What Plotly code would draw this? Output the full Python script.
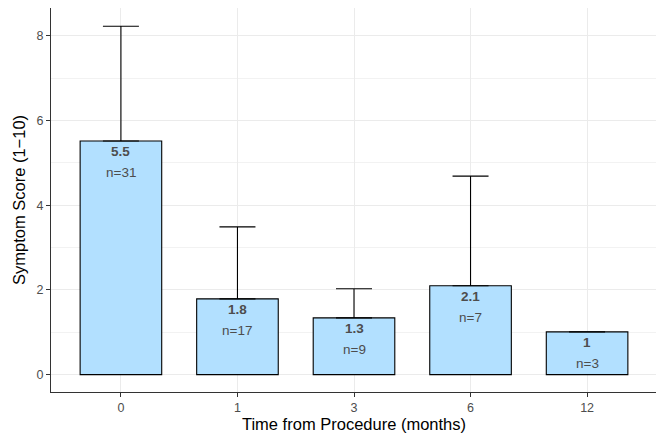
import plotly.graph_objects as go

categories = ["0", "1", "3", "6", "12"]
means = [5.52, 1.79, 1.34, 2.10, 1.01]
upper = [8.23, 3.49, 2.03, 4.69, 1.01]
mean_labels = ["5.5", "1.8", "1.3", "2.1", "1"]
n_labels = ["n=31", "n=17", "n=9", "n=7", "n=3"]

err_plus = [u - m for u, m in zip(upper, means)]
err_minus = [0] * len(means)
positions = list(range(len(categories)))

FONT = "Arial, Liberation Sans, sans-serif"

fig = go.Figure()
fig.add_trace(go.Bar(
    x=positions, y=means, width=0.7,
    marker=dict(color="#b2e0ff", line=dict(color="black", width=1.1)),
    error_y=dict(type="data", symmetric=False, array=err_plus, arrayminus=err_minus,
                 color="black", thickness=1.1, width=18),
    hoverinfo="skip",
))

annotations = []
for p, m, ml, nl in zip(positions, means, mean_labels, n_labels):
    annotations.append(dict(x=p, y=m, text="<b>" + ml + "</b>", showarrow=False,
                            yanchor="middle", yshift=-11,
                            font=dict(family=FONT, size=13.5, color="#4d4d4d")))
    annotations.append(dict(x=p, y=m, text=nl, showarrow=False,
                            yanchor="middle", yshift=-32,
                            font=dict(family=FONT, size=13.5, color="#4d4d4d")))

# page body has an 8px default margin; size the figure to fit the window
fig.update_layout(
    width=656, height=425,
    margin=dict(l=43, r=7, t=0, b=41),
    paper_bgcolor="white", plot_bgcolor="white",
    showlegend=False,
    font=dict(family=FONT),
    annotations=annotations,
)
fig.update_xaxes(
    automargin=False,
    range=[-0.6, 4.6],
    tickvals=positions, ticktext=categories,
    showgrid=True, gridcolor="#ebebeb", gridwidth=1.1,
    ticks="outside", ticklen=4, tickcolor="#333333", tickwidth=1.1,
    tickfont=dict(family=FONT, size=12.5, color="#4d4d4d"),
    title=dict(text="Time from Procedure (months)", font=dict(family=FONT, size=16.5, color="black"), standoff=4),
    showline=True, linecolor="#333333", linewidth=1.1, mirror=True,
    zeroline=False,
)
fig.update_yaxes(
    automargin=False,
    range=[-0.41, 8.66],
    tickvals=[0, 2, 4, 6, 8],
    showgrid=True, gridcolor="#ebebeb", gridwidth=1.1,
    minor=dict(tickvals=[1, 3, 5, 7], showgrid=True, gridcolor="#f2f2f2", gridwidth=0.6, ticks=""),
    ticks="outside", ticklen=4, tickcolor="#333333", tickwidth=1.1,
    tickfont=dict(family=FONT, size=12.5, color="#4d4d4d"),
    title=dict(text="Symptom Score (1\u221210)", font=dict(family=FONT, size=16.5, color="black"), standoff=6),
    showline=True, linecolor="#333333", linewidth=1.1, mirror=True,
    zeroline=False,
)

fig.write_html("out.html")
